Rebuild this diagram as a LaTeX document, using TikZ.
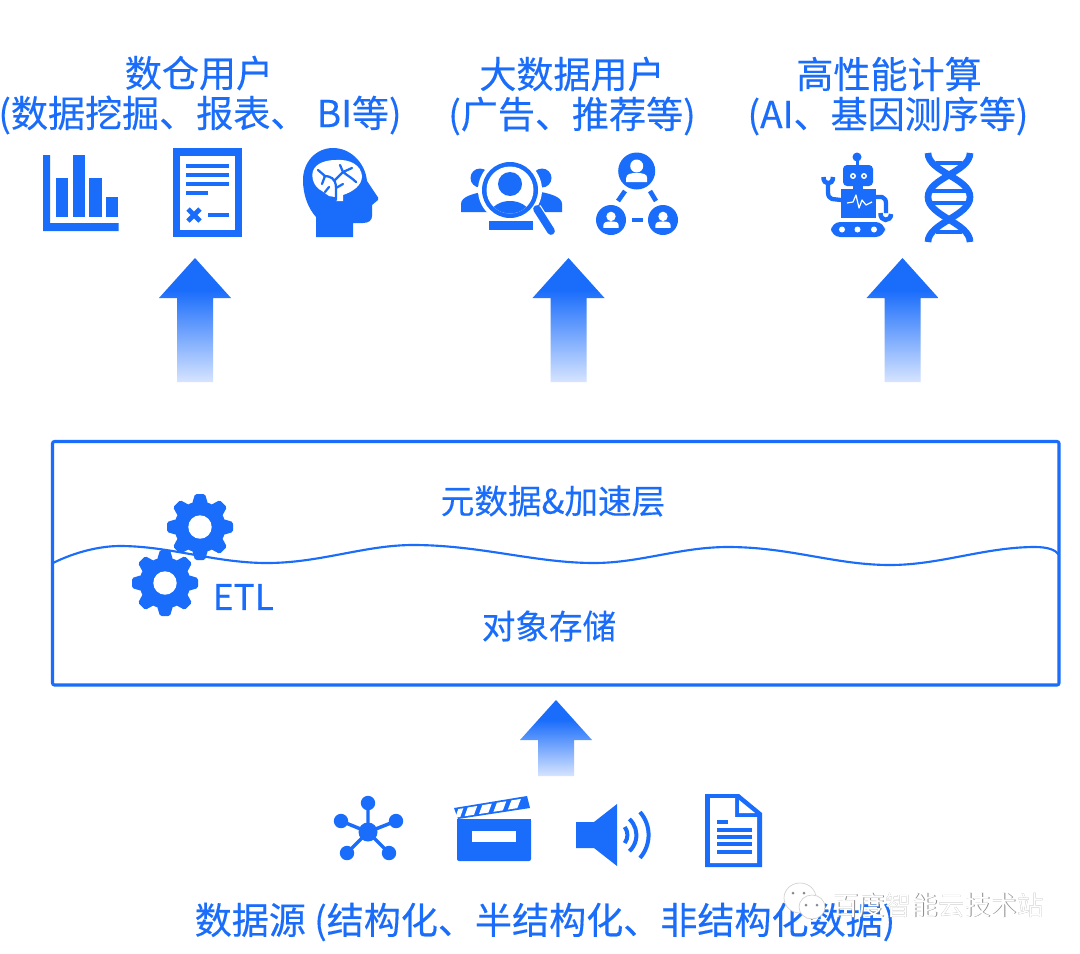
\documentclass[tikz,border=0pt]{standalone}
\usepackage{fontspec}
\setmainfont{Noto Sans CJK SC}
\newfontfamily\cjkm[FakeBold=0.35]{Noto Sans CJK SC}
\usetikzlibrary{calc}
\definecolor{bd}{HTML}{1A6DFB}
\definecolor{fadeb}{HTML}{D6E4FF}
\definecolor{wmgray}{HTML}{8A8A8A}
\pgfdeclareverticalshading{arrowfade}{100bp}{color(0bp)=(fadeb);color(25bp)=(fadeb);color(62bp)=(bd);color(100bp)=(bd)}
\tikzset{
  title/.style={text=bd,font=\cjkm\fontsize{27.8}{28}\selectfont,inner sep=0pt},
  lbl/.style={text=bd,font=\cjkm\fontsize{25.2}{25}\selectfont,inner sep=0pt},
  bl/.style={line width=#1,draw=bd},
  wm/.style={font=\fontsize{19.8}{20}\selectfont,inner sep=0pt}
}
\newcommand\bigarrow[3]{% apex x, top y, bottom y
  \path[shading=arrowfade] (#1,#2) -- (#1+36,#2+40) -- (#1+18,#2+40) -- (#1+18,#3) -- (#1-18,#3) -- (#1-18,#2+40) -- (#1-36,#2+40) -- cycle;}
\newcommand\gearicon[2]{%
  \begin{scope}[shift={(#1,#2)}]
    \fill[bd] (0,0) circle[radius=25.5];
    \foreach \a in {0,45,...,315}{
      \fill[bd,rotate=\a,rounded corners=1.2] (-8,-23) -- (-5,-33) -- (5,-33) -- (8,-23) -- cycle;}
    \fill[white] (0,0) circle[radius=11.7];
  \end{scope}}
\newcommand\personicon[3]{%
  \begin{scope}[shift={(#1,#2)},scale=#3]
    \fill[white] (0,-5) circle[radius=6.5];
    \fill[white] (-10.5,11) -- (-10.5,7) .. controls (-10.5,3) and (-6,2) .. (0,2) .. controls (6,2) and (10.5,3) .. (10.5,7) -- (10.5,11) -- cycle;
  \end{scope}}
\begin{document}
\begin{tikzpicture}[x=0.75pt,y=-0.75pt]
\useasboundingbox (0,0) rectangle (1080,953);
\fill[white] (0,0) rectangle (1080,953);

% titles
\node[title] (t1a) at (199,73) {数仓用户};
\node[title] (t1b) at (200,115) {(数据挖掘、报表、\hspace{7pt}BI等)};
\node[title] (t2a) at (572,74) {大数据用户};
\node[title] (t2b) at (572,116) {(广告、推荐等)};
\node[title] (t3a) at (889,74) {高性能计算};
\node[title] (t3b) at (888,116) {(AI、基因测序等)};

% bar chart
\fill[bd] (43,155) -- (50,155) -- (50,223) -- (118.5,223) -- (118.5,231) -- (43,231) -- cycle;
\fill[bd] (56,178) rectangle (68,217);
\fill[bd] (73,155) rectangle (85,217);
\fill[bd] (89,178) rectangle (102,217);
\fill[bd] (106,197) rectangle (118,217);

% report
\fill[bd] (173,148) rectangle (242,237);
\fill[white] (180,156) rectangle (235,230);
\fill[bd] (186,164) rectangle (229,168);
\fill[bd] (186,173) rectangle (229,177);
\fill[bd] (186,182) rectangle (229,186);
\fill[bd] (186,191) rectangle (208,195);
\draw[bl=3.5pt] (188,209) -- (200,221) (200,209) -- (188,221);
\fill[bd] (208,213) rectangle (229,217);

% head
\fill[bd] (316,237) -- (353,237) -- (353,223) -- (363,223) .. controls (369,223) and (372,220) .. (372,216) -- (372,205) -- (378,200) .. controls (379,198) and (378,197) .. (377,196) -- (367,181) .. controls (365,162) and (350,148) .. (333,148) .. controls (316,148) and (303,162) .. (303,180) .. controls (303,195) and (308,208) .. (316,217) -- cycle;
\fill[white] (322,191) .. controls (314,187) and (311,178) .. (313,171) .. controls (316,163) and (326,160) .. (336,160) .. controls (350,159) and (361,165) .. (362,176) .. controls (362,186) and (352,192) .. (343,195) -- (343,201) -- (336,201) -- (335,197) -- (329,196) -- cycle;
\draw[bl=1.7pt,line cap=round] (336,200) -- (336,188) .. controls (336,178) and (330,176) .. (324,176) (318,170) -- (325,176) -- (322,184) (335,180) -- (343,172) -- (340,165) (343,172) -- (352,168) (343,172) .. controls (348,176) and (352,178) .. (356,182) (336,188) -- (343,184) (329,187) -- (325,192);

% magnifying users
\fill[bd] (480,178) circle[radius=9.5];
\fill[bd] (542,178) circle[radius=9.5];
\fill[bd] (461,212) -- (461,204) .. controls (461,197) and (472,194) .. (482,192) -- (490,212) -- cycle;
\fill[bd] (562,212) -- (562,204) .. controls (562,197) and (551,194) .. (541,192) -- (533,212) -- cycle;
\fill[white] (510,190) circle[radius=32];
\fill[bd] (489,230) -- (489,221) -- (533,221) -- (533,230) -- cycle;
\fill[white] (510,190) circle[radius=30];
\fill[bd] (510,190) circle[radius=28];
\fill[white] (510,190) circle[radius=23.5];
\begin{scope}
  \clip (510,190) circle[radius=23.5];
  \fill[bd] (510,184) circle[radius=12];
  \fill[bd] (486,218) .. controls (492,204) and (502,201) .. (510,201) .. controls (518,201) and (528,204) .. (534,218) -- cycle;
\end{scope}
\draw[white,line width=8pt] (536,208) -- (543,219);
\draw[bl=5.8pt,line cap=round] (537,209) -- (551,231);

% network of people
\fill[bd] (636.7,171) circle[radius=18.5];
\fill[bd] (611,220) circle[radius=15];
\fill[bd] (663,220) circle[radius=15];
\personicon{636.7}{171}{1}
\personicon{611}{220}{.72}
\personicon{663}{220}{.72}
\draw[bl=3.5pt] (625,191) -- (618,201) (650,191) -- (656,201);
\draw[bl=3.5pt] (632,220) -- (643,220);

% robot
\fill[bd] (857,157) circle[radius=4.5];
\fill[bd] (855.5,157) rectangle (858.5,166);
\fill[bd,rounded corners=3] (843,165) rectangle (873,186);
\fill[bd] (853,185) rectangle (863,190);
\fill[white] (853,176) circle[radius=3];
\fill[white] (864,176) circle[radius=3];
\fill[bd] (853,176) circle[radius=1.3];
\fill[bd] (864,176) circle[radius=1.3];
\fill[bd] (841,189) rectangle (876,218);
\draw[white,line width=.9pt,line join=round] (847,203) -- (853,202) -- (856,195) -- (859,208) -- (862,200) -- (866,205) -- (872,202);
\draw[bl=3.2pt,line join=round] (841,200) -- (832,199) .. controls (829,198) and (828,196) .. (828,192) -- (828,184);
\draw[bl=3.4pt] (823.5,177) .. controls (823,185) and (833,186) .. (833,177);
\draw[bl=3.2pt,line join=round] (876,197) -- (882,197) .. controls (885,198) and (886,200) .. (886,204) -- (886,213);
\draw[bl=3.4pt] (880.5,213) .. controls (880,222) and (891,222) .. (891,214);
\fill[bd,rounded corners=7] (831,222) rectangle (885,237);
\foreach \cx in {842,857.5,874}{\fill[white] (\cx,229.5) circle[radius=3];}

% DNA
\draw[bl=5pt] (928,153) .. controls (928,172) and (970,178) .. (970,197) .. controls (970,216) and (928,223) .. (928,242);
\draw[bl=5pt] (970,153) .. controls (970,172) and (928,178) .. (928,197) .. controls (928,216) and (970,223) .. (970,242);
\draw[bl=3.7pt] (936,163) -- (962,163) (931,191) -- (967,191) (931,203) -- (967,203) (936,232) -- (962,232);

% upward arrows
\bigarrow{195}{258}{382}
\bigarrow{568.5}{258}{382}
\bigarrow{902.5}{258}{382}
\bigarrow{556}{700}{776}

% storage box
\draw[bd,line width=2.3pt,rounded corners=1.5] (52.5,441.5) rectangle (1059,685);
\draw[bl=1.6pt] (53,563) .. controls (75,552) and (100,546) .. (120,546) .. controls (170,546) and (215,563) .. (267,563) .. controls (320,563) and (365,545) .. (413,545) .. controls (480,545) and (535,563) .. (594,563) .. controls (640,563) and (680,547) .. (728,547) .. controls (790,547) and (835,565) .. (890,565) .. controls (940,565) and (985,547) .. (1035,547) .. controls (1048,547) and (1056,550) .. (1059,555);
\gearicon{200}{527}
\gearicon{165}{583}
\node[lbl] (meta) at (553,501) {元数据\&加速层};
\node[lbl] (obj) at (549,626) {对象存储};
\node[lbl,anchor=west,font=\cjkm\fontsize{26.5}{27}\selectfont] (etl) at (212.5,597) {ETL};

% source icons: network
\draw[bl=2.6pt] (368,832) -- (368,803) (368,832) -- (341,821) (368,832) -- (396,821) (368,832) -- (347,853) (368,832) -- (389,853);
\fill[bd] (368,832) circle[radius=9.5];
\foreach \p/\q in {368/803,341/821,396/821,347/853,389/853}{\fill[bd] (\p,\q) circle[radius=7.2];}

% clapperboard
\fill[bd,rounded corners=1.5] (457,819) -- (531,819) -- (531,861) -- (457,861) -- cycle;
\fill[bd] (457,819) rectangle (531,825);
\fill[white] (472,831) rectangle (516,842);
\coordinate (ca) at (454,808);
\coordinate (cb) at (527,796);
\coordinate (cc) at (458,819);
\coordinate (cd) at (530,808);
\fill[bd] (ca) -- (cb) -- (cd) -- (cc) -- cycle;
\foreach \t/\u in {.05/.12,.18/.31,.38/.51,.58/.71,.78/.91}{
  \fill[white] ($(ca)!.15!(cc)!\t!($(cb)!.15!(cd)$)$) -- ($(ca)!.15!(cc)!\u!($(cb)!.15!(cd)$)$) -- ($(ca)!.85!(cc)!\u-.08!($(cb)!.85!(cd)$)$) -- ($(ca)!.85!(cc)!\t-.08!($(cb)!.85!(cd)$)$) -- cycle;}

% speaker
\fill[bd] (576,822) -- (594,822) -- (617,804) -- (617,866) -- (594,848) -- (576,848) -- cycle;
\draw[bl=3pt] (624.7,827) arc[start angle=-38,end angle=38,radius=13];
\draw[bl=3pt] (629.4,819) arc[start angle=-47,end angle=47,radius=22];
\draw[bl=3pt] (640,812) arc[start angle=-41,end angle=41,radius=35];

% document
\fill[bd] (705,794) -- (739,794) -- (762,813) -- (762,867) -- (705,867) -- cycle;
\fill[white] (710,798) -- (735,798) -- (735,817) -- (757,817) -- (757,863) -- (710,863) -- cycle;
\fill[white] (739,800) -- (739,813) -- (755,813) -- cycle;
\draw[bl=2.6pt] (717,822) -- (728,822) (717,830) -- (752,830) (717,837) -- (752,837) (717,844) -- (752,844) (717,852) -- (752,852);

% source label
\node[title] (src) at (545,922) {数据源 (结构化、半结构化、非结构化数据)};

% watermark
\fill[white,draw=wmgray!40,line width=.5pt] (800,898) ellipse[x radius=16,y radius=15];
\fill[white,draw=wmgray!40,line width=.5pt] (812,907) ellipse[x radius=13,y radius=12];
\foreach \p/\q in {793/893,804/893,806/905,817/905}{\fill[wmgray] (\p,\q) circle[radius=1.5];}
\node[wm,text=wmgray] (wmb) at (938.7,905.7) {百度智能云技术站};
\node[wm,text=white] (wmf) at (938,905) {百度智能云技术站};
\end{tikzpicture}
\end{document}
